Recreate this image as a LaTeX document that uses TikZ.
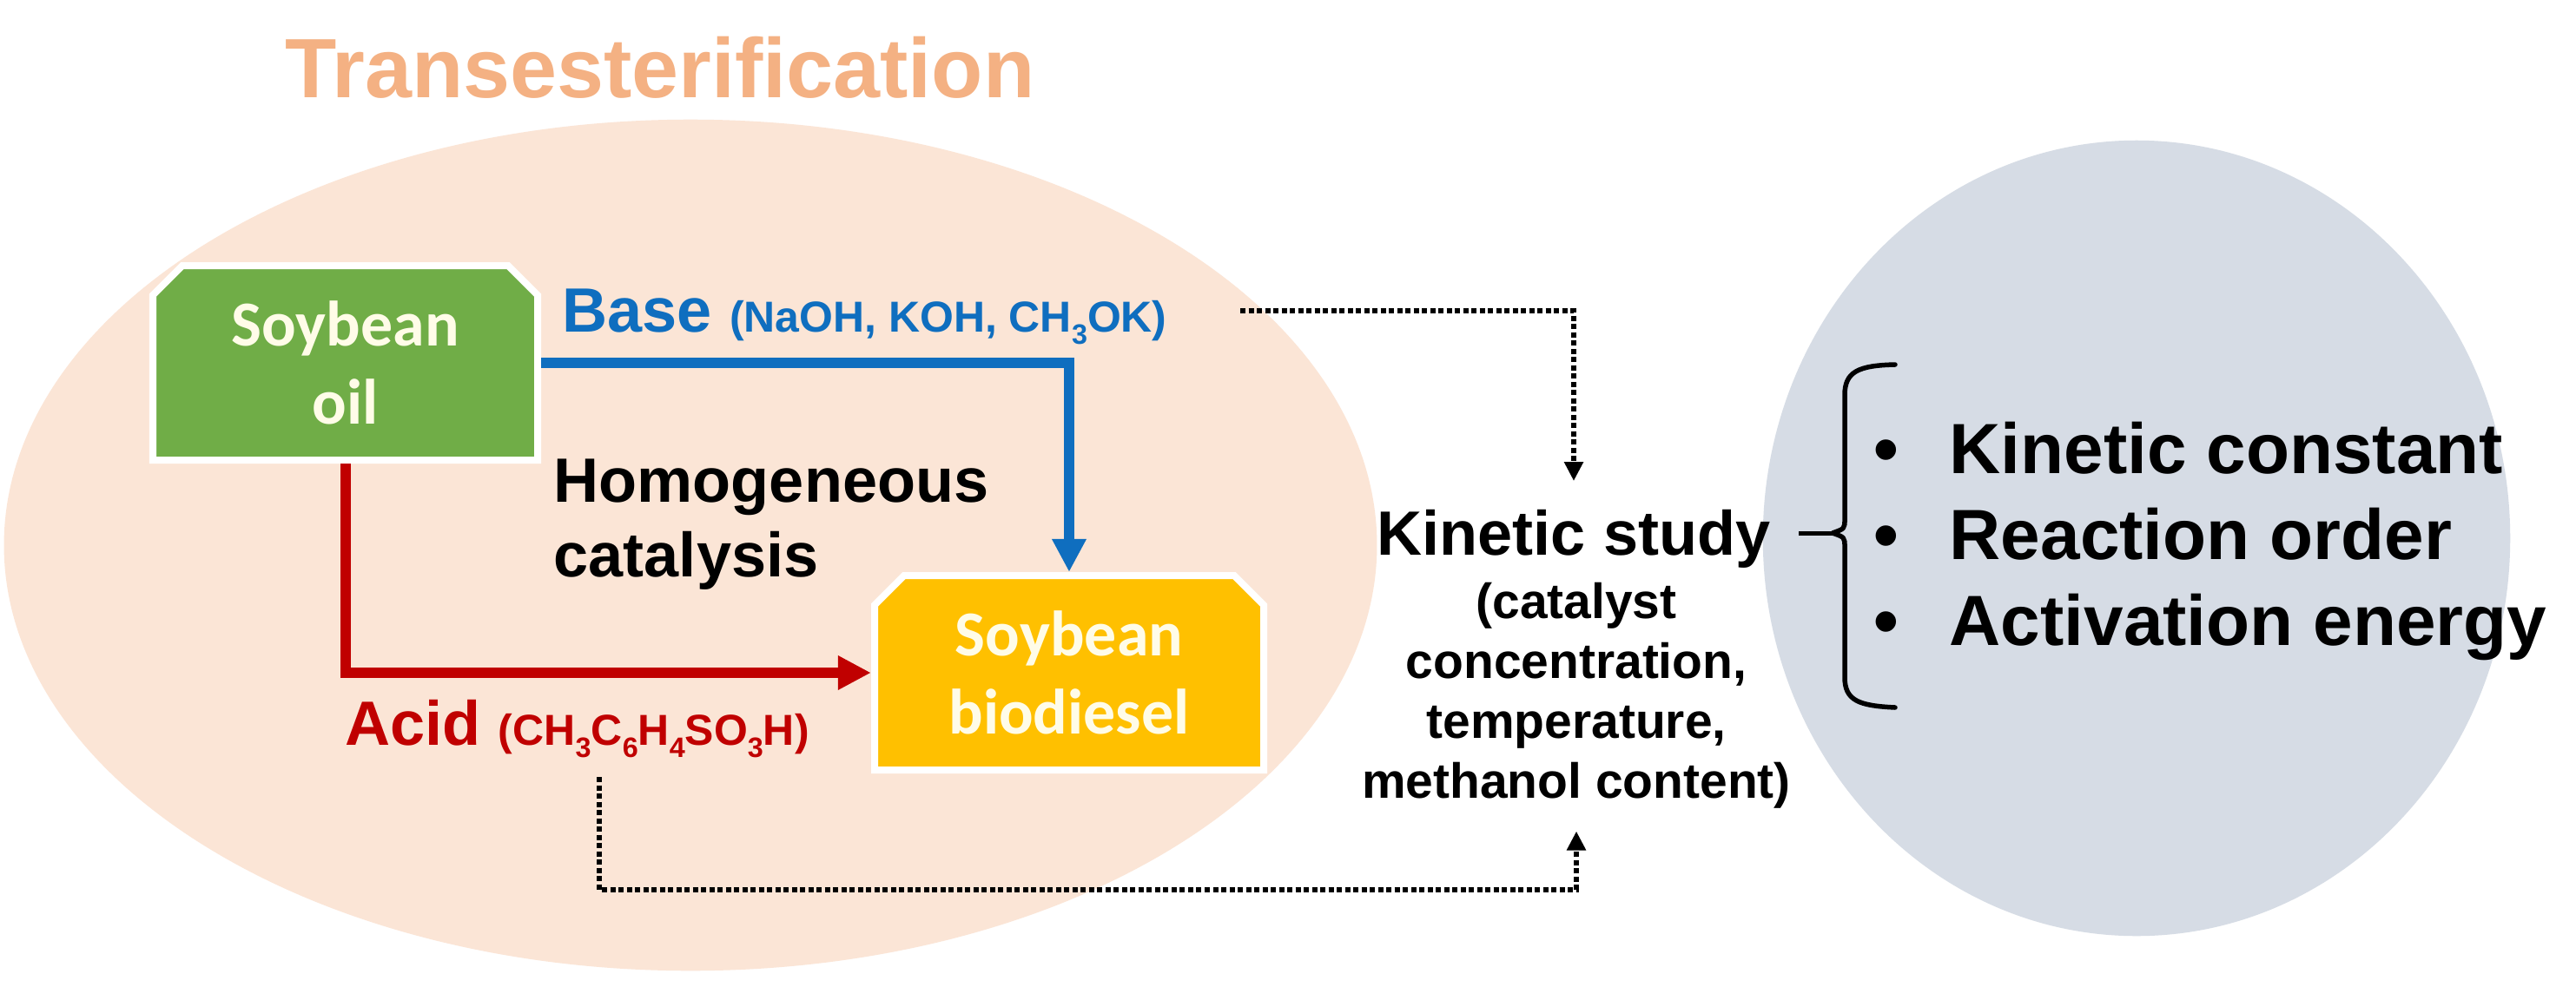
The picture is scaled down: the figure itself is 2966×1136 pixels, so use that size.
\documentclass[tikz,border=0pt]{standalone}
\usepackage{fontspec}
\setmainfont{Liberation Sans}
\newfontfamily\boxfont{Carlito}
\usetikzlibrary{arrows.meta}
\definecolor{peach}{HTML}{FBE5D6}
\definecolor{titleC}{HTML}{F4B183}
\definecolor{greenC}{HTML}{70AD47}
\definecolor{yellowC}{HTML}{FFC000}
\definecolor{blueC}{HTML}{0F6EBF}
\definecolor{redC}{HTML}{C00000}
\definecolor{greyE}{HTML}{D6DCE5}
\definecolor{boxtext}{HTML}{FFFCE8}
\newcommand\myfs[2]{\fontsize{#1pt}{#2pt}\selectfont}
\newcommand\subdig[1]{\raisebox{-0.3em}{\fontsize{9.2pt}{10pt}\selectfont #1}}
\tikzset{
  lbl/.style={inner sep=0pt},
  boxshape/.style={draw=white, line width=0.08cm, line join=miter},
  sbox/.style={rectangle, minimum width=4.43cm, minimum height=2.24cm, outer sep=0.04cm,
    inner sep=0pt, align=center, text=boxtext, font=\boxfont\bfseries\myfs{21}{25.6}},
  flowline/.style={line width=0.12cm, -{Triangle[length=0.38cm,width=0.37cm]}},
  dotl/.style={line width=0.065cm, dash pattern=on 0.06cm off 0.035cm,
    -{Triangle[length=0.22cm,width=0.21cm]}},
  bracel/.style={line width=0.055cm, line cap=round, line join=round}
}
\begin{document}
\begin{tikzpicture}[x=0.01cm,y=-0.01cm]
\useasboundingbox (0,0) rectangle (2966,1136);
\fill[white] (0,0) rectangle (2966,1136);
% background ellipses
\fill[peach] (795,628) ellipse [x radius=7.90cm, y radius=4.90cm];
\fill[greyE] (2460,620) ellipse [x radius=4.30cm, y radius=4.58cm];
% title
\node[lbl, anchor=base, text=titleC, font=\bfseries\myfs{27.6}{30}] (title) at (760,112) {Transesterification};
% box shapes (snipped top corners)
\filldraw[boxshape, fill=greenC] (176,530) -- (176,340) -- (210,306) -- (585,306) -- (619,340) -- (619,530) -- cycle;
\filldraw[boxshape, fill=yellowC] (1007,887) -- (1007,697) -- (1041,663) -- (1421,663) -- (1455,697) -- (1455,887) -- cycle;
% box nodes
\node[sbox] (oil) at (397.5,418) {Soybean\\oil};
\node[sbox, minimum width=4.48cm] (bio) at (1231,775) {Soybean\\biodiesel};
% flow connectors
\draw[flowline, blueC] (oil.east) -| (bio.north);
\draw[flowline, redC] (oil.south) |- (bio.west);
% labels
\node[lbl, anchor=base west, text=blueC, font=\bfseries] (basel) at (647,382)
  {\myfs{20.5}{24}Base \myfs{14.2}{17}(NaOH, KOH, CH\subdig{3}OK)};
\node[lbl, anchor=base west, text=redC, font=\bfseries] (acidl) at (397,858)
  {\myfs{20.5}{24}Acid \myfs{14.2}{17}(CH\subdig{3}C\subdig{6}H\subdig{4}SO\subdig{3}H)};
\node[lbl, anchor=base west, font=\bfseries\myfs{20.5}{24}] (hom1) at (637,578) {Homogeneous};
\node[lbl, anchor=base west, font=\bfseries\myfs{20.5}{24}] (hom2) at (637,664) {catalysis};
% kinetic study
\node[inner sep=0.32cm, anchor=base, font=\bfseries\myfs{20.5}{24}] (ks) at (1812,639) {Kinetic study};
\node[lbl, anchor=base, font=\bfseries\myfs{16.2}{19}] (c1) at (1815,712) {(catalyst};
\node[lbl, anchor=base, font=\bfseries\myfs{16.2}{19}] (c2) at (1815,781) {concentration,};
\node[lbl, anchor=base, font=\bfseries\myfs{16.2}{19}] (c3) at (1815,850) {temperature,};
\node[inner sep=0.26cm, anchor=base, font=\bfseries\myfs{16.2}{19}] (c4) at (1815,919) {methanol content)};
% dotted connectors
\coordinate (b1) at (1428,358);
\coordinate (a1) at (690,895);
\coordinate (bc) at (1815,1025);
\draw[dotl] (b1) -| (ks.north);
\draw[dotl] (a1) |- (bc) -- (c4.south);
% brace
\coordinate (cusp) at (2110,614);
\draw[line width=0.05cm] (ks.east |- cusp) -- (cusp);
\draw[bracel] (2182,420) .. controls (2140,421) and (2124,428) .. (2124,455) -- (2124,598)
  .. controls (2124,609) .. (cusp) .. controls (2124,619) .. (2124,630) -- (2124,780)
  .. controls (2124,807) and (2140,813) .. (2182,815);
% results list
\node[lbl, anchor=base, font=\bfseries\myfs{23.3}{27}] (bu1) at (2172,545) {•};
\node[lbl, anchor=base, font=\bfseries\myfs{23.3}{27}] (bu2) at (2172,644) {•};
\node[lbl, anchor=base, font=\bfseries\myfs{23.3}{27}] (bu3) at (2172,743) {•};
\node[lbl, anchor=base west, font=\bfseries\myfs{23.3}{27}] (r1) at (2244,545) {Kinetic constant};
\node[lbl, anchor=base west, font=\bfseries\myfs{23.3}{27}] (r2) at (2244,644) {Reaction order};
\node[lbl, anchor=base west, font=\bfseries\myfs{23.3}{27}] (r3) at (2244,743) {Activation energy};
\end{tikzpicture}
\end{document}
